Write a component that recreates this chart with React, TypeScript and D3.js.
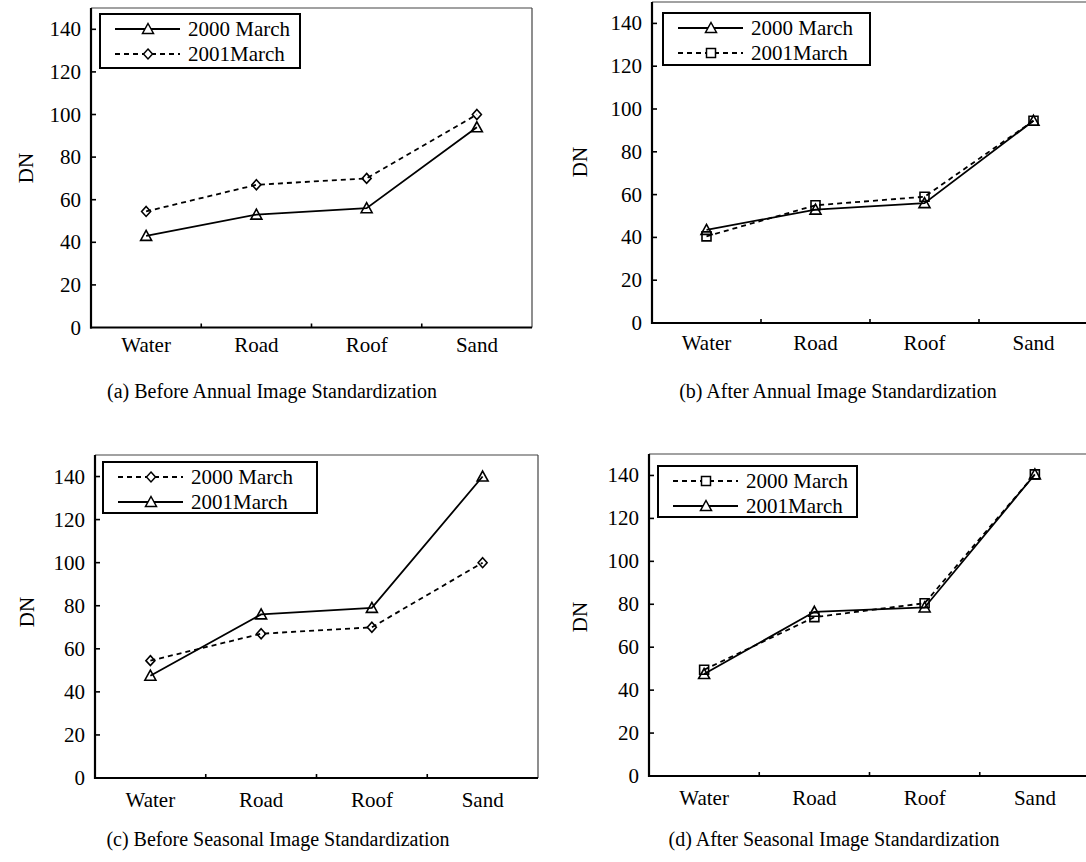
import * as d3 from 'd3'

// categories / ticks
const categories = ['Water', 'Road', 'Roof', 'Sand']
const yTickValues = [0, 20, 40, 60, 80, 100, 120, 140]
const name2000 = '2000 March'
const name2001 = '2001March'

// (a) before annual standardization
const annualBefore2000 = [43, 53, 56, 94]
const annualBefore2001 = [54.5, 67, 70, 100]
// (b) after annual standardization
const annualAfter2000 = [43.5, 53, 56, 94.5]
const annualAfter2001 = [40.5, 55, 59, 94.5]
// (c) before seasonal standardization
const seasonalBefore2000 = [54.5, 67, 70, 100]
const seasonalBefore2001 = [47.5, 76, 79, 140]
// (d) after seasonal standardization
const seasonalAfter2000 = [49.5, 74, 80.5, 140.5]
const seasonalAfter2001 = [47.5, 76.5, 78.5, 140.5]

const captions = [
  '(a) Before Annual Image Standardization',
  '(b) After Annual Image Standardization',
  '(c) Before Seasonal Image Standardization',
  '(d) After Seasonal Image Standardization',
]

type Marker = 'triangle' | 'diamond' | 'square'
interface Series {
  name: string
  values: number[]
  dashed: boolean
  marker: Marker
}

const panelSeries: Series[][] = [
  [
    { name: name2000, values: annualBefore2000, dashed: false, marker: 'triangle' },
    { name: name2001, values: annualBefore2001, dashed: true, marker: 'diamond' },
  ],
  [
    { name: name2000, values: annualAfter2000, dashed: false, marker: 'triangle' },
    { name: name2001, values: annualAfter2001, dashed: true, marker: 'square' },
  ],
  [
    { name: name2000, values: seasonalBefore2000, dashed: true, marker: 'diamond' },
    { name: name2001, values: seasonalBefore2001, dashed: false, marker: 'triangle' },
  ],
  [
    { name: name2000, values: seasonalAfter2000, dashed: true, marker: 'square' },
    { name: name2001, values: seasonalAfter2001, dashed: false, marker: 'triangle' },
  ],
]

// layout of the four panels
const layouts = [
  { left: 91, right: 532, top: 8, bottom: 327.5, lx: 100, ly: 14, lw: 200, lh: 54, dnx: 26, dny: 168, cx: 272, cy: 392, labelOff: 17 },
  { left: 652, right: 1088, top: 2, bottom: 323, lx: 663, ly: 13, lw: 207, lh: 52, dnx: 580, dny: 162, cx: 838, cy: 392, labelOff: 20 },
  { left: 95, right: 538, top: 455, bottom: 778, lx: 103, ly: 462, lw: 214, lh: 51, dnx: 27, dny: 612, cx: 278, cy: 840, labelOff: 22 },
  { left: 649, right: 1090, top: 454, bottom: 776, lx: 658, ly: 466, lw: 199, lh: 51, dnx: 580, dny: 617, cx: 834, cy: 840, labelOff: 22 },
]

const FONT = '"Liberation Serif", "Times New Roman", "DejaVu Serif", serif'

function markerPath(m: Marker) {
  if (m === 'triangle') return 'M0,-5.5L5.5,4.5L-5.5,4.5Z'
  if (m === 'diamond') return 'M0,-5L4.5,0L0,5L-4.5,0Z'
  return 'M-4.5,-4.5H4.5V4.5H-4.5Z'
}

function Panel({ idx }: { idx: number }) {
  const L = layouts[idx]
  const series = panelSeries[idx]

  const x = d3.scaleBand<string>().domain(categories).range([L.left, L.right]).padding(0)
  const y = d3.scaleLinear().domain([0, 150]).range([L.bottom, L.top])
  const cxOf = (c: string) => (x(c) ?? 0) + x.bandwidth() / 2

  const line = d3
    .line<number>()
    .x((_, i) => cxOf(categories[i]))
    .y((d) => y(d))

  return (
    <g>
      {/* frame */}
      <line x1={L.left} x2={L.right} y1={L.top} y2={L.top} stroke="#444" strokeWidth={1.2} />
      <line x1={L.right} x2={L.right} y1={L.top} y2={L.bottom} stroke="#444" strokeWidth={1.2} />
      <line x1={L.left} x2={L.left} y1={L.top} y2={L.bottom + 1} stroke="#000" strokeWidth={2.2} />
      <line x1={L.left - 1} x2={L.right} y1={L.bottom} y2={L.bottom} stroke="#000" strokeWidth={2.2} />

      {/* y ticks */}
      {yTickValues.map((t) => (
        <g key={t}>
          {t > 0 && <line x1={L.left} x2={L.left + 5} y1={y(t)} y2={y(t)} stroke="#000" strokeWidth={1.6} />}
          <text x={L.left - 10} y={y(t) + 7} textAnchor="end" fontSize={21} fontFamily={FONT}>
            {t}
          </text>
        </g>
      ))}

      {/* x ticks between categories */}
      {categories.slice(1).map((c) => (
        <line key={c} x1={x(c)} x2={x(c)} y1={L.bottom} y2={L.bottom - 4} stroke="#000" strokeWidth={1.6} />
      ))}
      {categories.map((c) => (
        <text key={c} x={cxOf(c)} y={L.bottom + L.labelOff + 7} textAnchor="middle" fontSize={21} fontFamily={FONT}>
          {c}
        </text>
      ))}

      {/* y label */}
      <text
        transform={`translate(${L.dnx},${L.dny}) rotate(-90)`}
        textAnchor="middle"
        dy="0.35em"
        fontSize={21}
        fontFamily={FONT}
      >
        DN
      </text>

      {/* series */}
      {series.map((s) => (
        <g key={s.name}>
          <path
            d={line(s.values) ?? ''}
            fill="none"
            stroke="#000"
            strokeWidth={1.8}
            strokeDasharray={s.dashed ? '5,4' : undefined}
          />
          {s.values.map((v, i) => (
            <path
              key={i}
              transform={`translate(${cxOf(categories[i])},${y(v)})`}
              d={markerPath(s.marker)}
              fill="none"
              stroke="#000"
              strokeWidth={1.6}
            />
          ))}
        </g>
      ))}

      {/* legend */}
      <rect x={L.lx} y={L.ly} width={L.lw} height={L.lh} fill="#fff" stroke="#000" strokeWidth={2} />
      {series.map((s, i) => {
        const ry = L.ly + 15 + i * 25
        return (
          <g key={s.name}>
            <line
              x1={L.lx + 15}
              x2={L.lx + 80}
              y1={ry}
              y2={ry}
              stroke="#000"
              strokeWidth={1.8}
              strokeDasharray={s.dashed ? '5,4' : undefined}
            />
            <path
              transform={`translate(${L.lx + 48},${ry})`}
              d={markerPath(s.marker)}
              fill="#fff"
              stroke="#000"
              strokeWidth={1.5}
            />
            <text x={L.lx + 88} y={ry + 7} fontSize={21} fontFamily={FONT}>
              {s.name}
            </text>
          </g>
        )
      })}

      {/* caption */}
      <text x={L.cx} y={L.cy + 6} textAnchor="middle" fontSize={20} fontFamily={FONT}>
        {captions[idx]}
      </text>
    </g>
  )
}

export default function App() {
  return (
    <div style={{ position: 'absolute', left: 0, top: 0 }}>
      <svg width={1086} height={862} style={{ display: 'block', background: '#fff' }}>
        {layouts.map((_, i) => (
          <Panel key={i} idx={i} />
        ))}
      </svg>
    </div>
  )
}
